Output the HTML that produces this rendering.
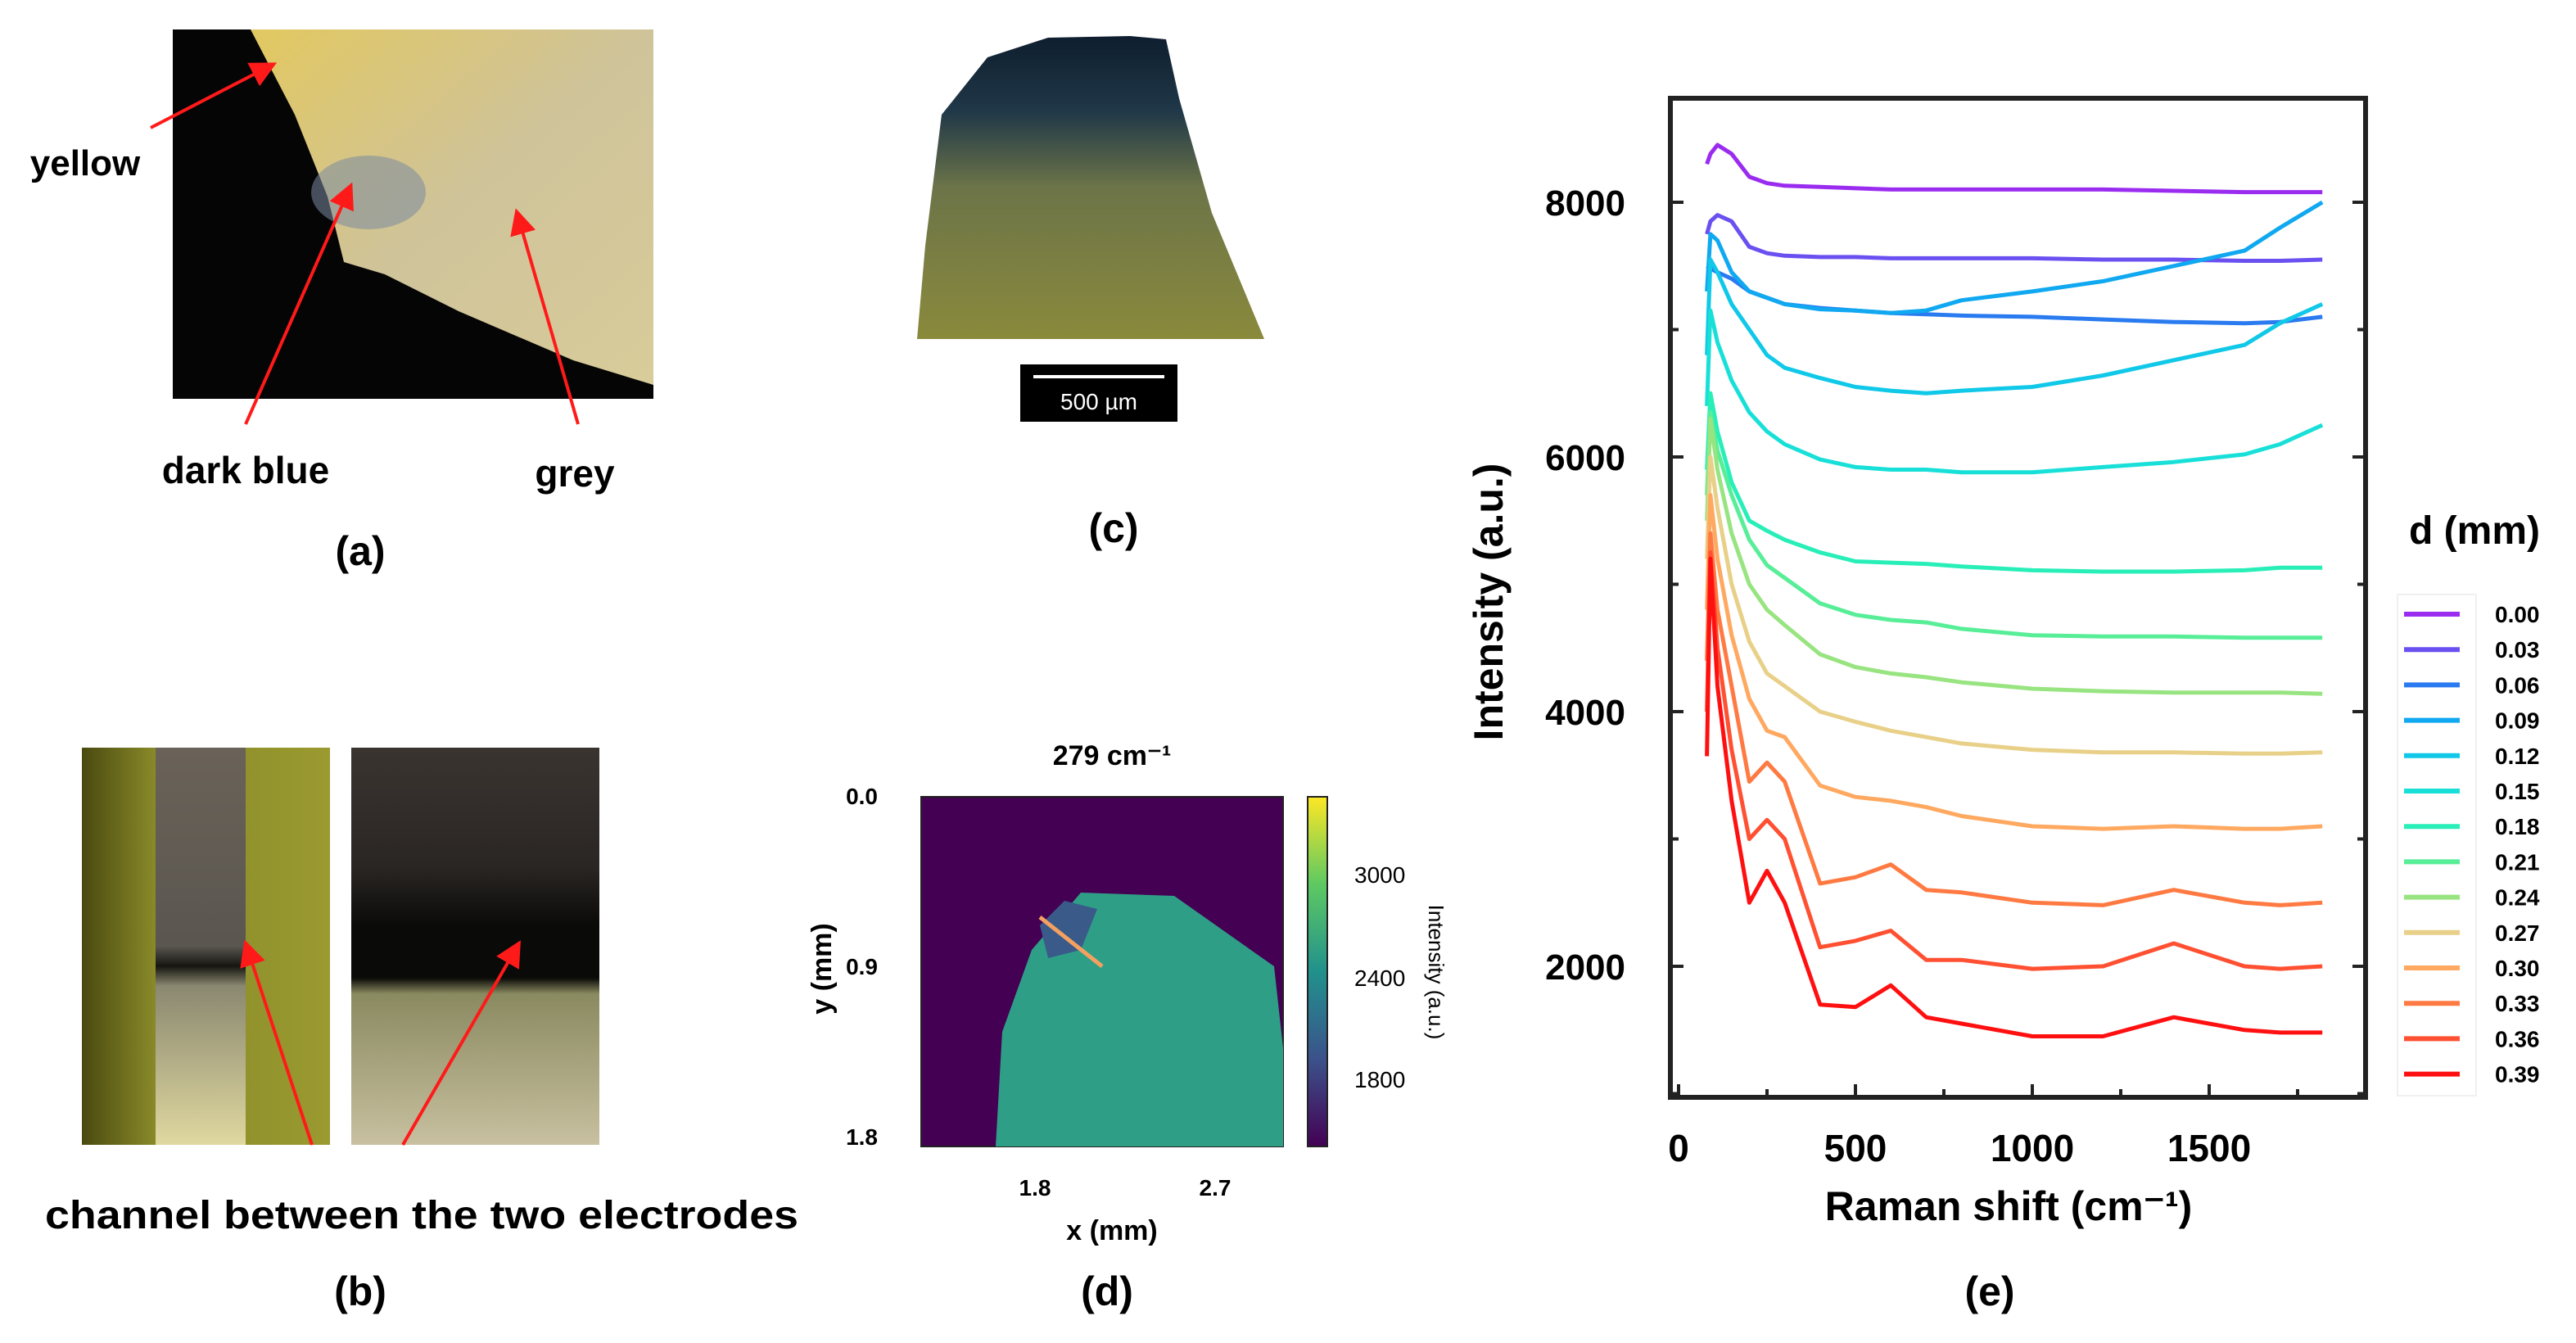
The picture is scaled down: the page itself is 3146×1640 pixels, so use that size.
<!DOCTYPE html>
<html><head><meta charset="utf-8"><style>
html,body{margin:0;padding:0;background:#fff;}
svg{display:block;font-family:"Liberation Sans",sans-serif;font-weight:bold;}
</style></head><body>
<svg id="fig" width="3146" height="1640" viewBox="0 0 3146 1640" xmlns="http://www.w3.org/2000/svg">
<defs>
 <linearGradient id="ga" x1="0" y1="0" x2="1" y2="1"><stop offset="0" stop-color="#e2c860"/><stop offset="0.5" stop-color="#cfc39a"/><stop offset="1" stop-color="#d8cc9a"/></linearGradient>
 <linearGradient id="gc" x1="0" y1="0" x2="0" y2="1"><stop offset="0" stop-color="#0e1e2e"/><stop offset="0.25" stop-color="#203848"/><stop offset="0.5" stop-color="#6c7448"/><stop offset="1" stop-color="#8a8a3c"/></linearGradient>
 <linearGradient id="gbl" x1="0" y1="0" x2="1" y2="0"><stop offset="0" stop-color="#4a4a10"/><stop offset="0.3" stop-color="#8a8a2a"/><stop offset="1" stop-color="#9a9a30"/></linearGradient>
 <linearGradient id="gbs" x1="0" y1="0" x2="0" y2="1"><stop offset="0" stop-color="#6a6258"/><stop offset="0.5" stop-color="#5a5650"/><stop offset="0.55" stop-color="#151510"/><stop offset="0.6" stop-color="#8a8870"/><stop offset="1" stop-color="#e0d8a0"/></linearGradient>
 <linearGradient id="gbr" x1="0" y1="0" x2="0" y2="1"><stop offset="0" stop-color="#3a3430"/><stop offset="0.3" stop-color="#2a2624"/><stop offset="0.45" stop-color="#0a0a08"/><stop offset="0.58" stop-color="#0a0a08"/><stop offset="0.62" stop-color="#8a8a60"/><stop offset="1" stop-color="#c8c0a0"/></linearGradient>
 <linearGradient id="gv" x1="0" y1="1" x2="0" y2="0"><stop offset="0" stop-color="#440154"/><stop offset="0.25" stop-color="#3b528b"/><stop offset="0.5" stop-color="#21918c"/><stop offset="0.75" stop-color="#5ec962"/><stop offset="1" stop-color="#fde725"/></linearGradient>
 <marker id="arr" markerWidth="8" markerHeight="8" refX="6" refY="4" orient="auto" markerUnits="strokeWidth"><path d="M0,0 L8,4 L0,8 z" fill="#ff1a1a"/></marker>
</defs>

<!-- Panel a -->
<g>
 <rect x="211" y="36" width="587" height="451" fill="#050505"/>
 <polygon points="306,36 798,36 798,470 700,440 560,380 470,335 420,320 400,240 360,140" fill="url(#ga)"/>
 <ellipse cx="450" cy="235" rx="70" ry="45" fill="#7a8aa0" opacity="0.55"/>
 <line x1="184" y1="156" x2="331" y2="80" stroke="#ff1a1a" stroke-width="4" marker-end="url(#arr)"/>
 <line x1="300" y1="518" x2="427" y2="230" stroke="#ff1a1a" stroke-width="4" marker-end="url(#arr)"/>
 <line x1="706" y1="518" x2="632" y2="262" stroke="#ff1a1a" stroke-width="4" marker-end="url(#arr)"/>
 <text x="104" y="214" font-size="44" text-anchor="middle">yellow</text>
 <text x="300" y="590" font-size="46" text-anchor="middle">dark blue</text>
 <text x="702" y="594" font-size="46" text-anchor="middle">grey</text>
 <text x="440" y="690" font-size="50" text-anchor="middle">(a)</text>
</g>

<!-- Panel b -->
<g>
 <rect x="100" y="913" width="303" height="485" fill="url(#gbl)"/>
 <rect x="190" y="913" width="110" height="485" fill="url(#gbs)"/>
 <rect x="429" y="913" width="303" height="485" fill="url(#gbr)"/>
 <line x1="381" y1="1398" x2="301" y2="1155" stroke="#ff1a1a" stroke-width="4" marker-end="url(#arr)"/>
 <line x1="492" y1="1398" x2="632" y2="1155" stroke="#ff1a1a" stroke-width="4" marker-end="url(#arr)"/>
 <text x="515" y="1500" font-size="48" text-anchor="middle" textLength="920" lengthAdjust="spacingAndGlyphs">channel between the two electrodes</text>
 <text x="440" y="1594" font-size="50" text-anchor="middle">(b)</text>
</g>

<!-- Panel c -->
<g>
 <polygon points="1206,70 1280,46 1380,44 1424,48 1440,120 1480,260 1544,414 1120,414 1130,300 1150,140" fill="url(#gc)"/>
 <rect x="1246" y="445" width="192" height="70" fill="#000"/>
 <line x1="1262" y1="460" x2="1422" y2="460" stroke="#fff" stroke-width="4"/>
 <text x="1342" y="500" font-size="28" fill="#fff" font-weight="normal" text-anchor="middle">500 µm</text>
 <text x="1360" y="662" font-size="50" text-anchor="middle">(c)</text>
</g>

<!-- Panel d -->
<g>
 <text x="1358" y="934" font-size="34" text-anchor="middle">279 cm⁻¹</text>
 <rect x="1125" y="973" width="442" height="427" fill="#440154" stroke="#222" stroke-width="2"/>
 <polygon points="1320,1090 1434,1094 1556,1180 1567,1280 1567,1400 1216,1400 1224,1260 1260,1160" fill="#2e9f86"/>
 <polygon points="1270,1130 1300,1100 1340,1110 1320,1160 1280,1170" fill="#3a5a8a"/>
 <line x1="1270" y1="1120" x2="1346" y2="1180" stroke="#f4a060" stroke-width="5"/>
 <text x="1072" y="982" font-size="28" text-anchor="end">0.0</text>
 <text x="1072" y="1190" font-size="28" text-anchor="end">0.9</text>
 <text x="1072" y="1398" font-size="28" text-anchor="end">1.8</text>
 <text x="1264" y="1460" font-size="28" text-anchor="middle">1.8</text>
 <text x="1484" y="1460" font-size="28" text-anchor="middle">2.7</text>
 <text x="1358" y="1514" font-size="34" text-anchor="middle">x (mm)</text>
 <text transform="translate(1015,1183) rotate(-90)" font-size="34" text-anchor="middle">y (mm)</text>
 <rect x="1597" y="973" width="24" height="427" fill="url(#gv)" stroke="#222" stroke-width="2"/>
 <text x="1654" y="1078" font-size="28" font-weight="normal">3000</text>
 <text x="1654" y="1204" font-size="28" font-weight="normal">2400</text>
 <text x="1654" y="1328" font-size="28" font-weight="normal">1800</text>
 <text transform="translate(1745,1187) rotate(90)" font-size="26" font-weight="normal" text-anchor="middle">Intensity (a.u.)</text>
 <text x="1352" y="1594" font-size="50" text-anchor="middle">(d)</text>
</g>

<g id="chart"></g>
</svg>
<script>
const xTicks = [0, 500, 1000, 1500];
const yTicks = [2000, 4000, 6000, 8000];
const dLabels = ["0.00","0.03","0.06","0.09","0.12","0.15","0.18","0.21","0.24","0.27","0.30","0.33","0.36","0.39"];
const ramanX = [80,90,110,150,200,250,300,400,500,600,700,800,1000,1200,1400,1600,1700,1820];
const s000 = [8300,8380,8450,8380,8200,8150,8130,8120,8110,8100,8100,8100,8100,8100,8090,8080,8080,8080];
const s003 = [7750,7850,7900,7850,7650,7600,7580,7570,7570,7560,7560,7560,7560,7550,7550,7540,7540,7550];
const s006 = [7500,7480,7450,7400,7300,7250,7200,7170,7150,7130,7120,7110,7100,7080,7060,7050,7060,7100];
const s009 = [7300,7750,7700,7450,7300,7250,7200,7160,7150,7130,7150,7230,7300,7380,7500,7620,7800,8000];
const s012 = [6800,7550,7450,7200,7000,6800,6700,6620,6550,6520,6500,6520,6550,6640,6760,6880,7050,7200];
const s015 = [6400,7150,6900,6600,6350,6200,6100,5980,5920,5900,5900,5880,5880,5920,5960,6020,6100,6250];
const s018 = [5900,6500,6200,5800,5500,5420,5350,5250,5180,5170,5160,5140,5110,5100,5100,5110,5130,5130];
const s021 = [5700,6350,6050,5700,5350,5150,5050,4850,4760,4720,4700,4650,4600,4590,4590,4580,4580,4580];
const s024 = [5500,6300,5900,5400,5000,4800,4680,4450,4350,4300,4270,4230,4180,4160,4150,4150,4150,4140];
const s027 = [5200,6000,5600,5000,4550,4300,4200,4000,3920,3850,3800,3750,3700,3680,3680,3670,3670,3680];
const s030 = [4800,5700,5200,4600,4100,3850,3800,3420,3330,3300,3250,3180,3100,3080,3100,3080,3080,3100];
const s033 = [4400,5400,4800,4200,3450,3600,3450,2650,2700,2800,2600,2580,2500,2480,2600,2500,2480,2500];
const s036 = [4000,5250,4500,3700,3000,3150,3000,2150,2200,2280,2050,2050,1980,2000,2180,2000,1980,2000];
const s039 = [3650,5200,4200,3300,2500,2750,2500,1700,1680,1850,1600,1550,1450,1450,1600,1500,1480,1480];
const allSeries = [s000,s003,s006,s009,s012,s015,s018,s021,s024,s027,s030,s033,s036,s039];
const colors = ["#9a2cf0","#6a50f0","#2a7af0","#10a8f0","#10c8e8","#18e0d8","#28eeb8","#58ee98","#98e480","#e8d088","#ffa860","#ff7a42","#ff5032","#ff1010"];

const NS = "http://www.w3.org/2000/svg";
const L = 2040, R = 2889, T = 120, B = 1340;
function xs(v){ return 2050 + v * (648/1500); }
function ys(v){ return 247 + (8000 - v) * (933/6000); }
const g = document.getElementById('chart');
function mk(tag, attrs, parent){ const e = document.createElementNS(NS, tag); for (const k in attrs) e.setAttribute(k, attrs[k]); (parent||g).appendChild(e); return e; }

// series
allSeries.forEach((s, i) => {
  const d = s.map((v, j) => (j ? 'L' : 'M') + xs(ramanX[j]).toFixed(1) + ',' + ys(v).toFixed(1)).join(' ');
  const p = mk('path', {d: d, fill: 'none', stroke: colors[i], 'stroke-width': 5, 'stroke-linejoin': 'round'});
  
  
});

// frame
const fr = mk('rect', {x: L, y: T, width: R - L, height: B - T, fill: 'none', stroke: '#222', 'stroke-width': 6});



// x ticks
for (let v = 0; v <= 1750; v += 250) {
  const len = v % 500 === 0 ? 16 : 10;
  mk('line', {x1: xs(v), x2: xs(v), y1: B, y2: B - len, stroke: '#222', 'stroke-width': 4});
}
xTicks.forEach(v => {
  const t = mk('text', {x: xs(v), y: 1418, 'font-size': 46, 'text-anchor': 'middle'});
  t.textContent = v;
  
  
});
// y ticks
for (let v = 1000; v <= 8000; v += 1000) {
  const len = v % 2000 === 0 ? 16 : 10;
  mk('line', {x1: L, x2: L + len, y1: ys(v), y2: ys(v), stroke: '#222', 'stroke-width': 4});
  mk('line', {x1: R, x2: R - len, y1: ys(v), y2: ys(v), stroke: '#222', 'stroke-width': 4});
}
yTicks.forEach(v => {
  const t = mk('text', {x: 1985, y: ys(v) + 16, 'font-size': 44, 'text-anchor': 'end'});
  t.textContent = v;
  
  
});
const xt = mk('text', {x: 2453, y: 1490, 'font-size': 50, 'text-anchor': 'middle'});
xt.textContent = 'Raman shift (cm⁻¹)';


const yt = mk('text', {transform: 'translate(1835,735) rotate(-90)', 'font-size': 50, 'text-anchor': 'middle'});
yt.textContent = 'Intensity (a.u.)';


const pe = mk('text', {x: 2430, y: 1594, 'font-size': 50, 'text-anchor': 'middle'});
pe.textContent = '(e)';



// legend
const lt = mk('text', {x: 3022, y: 664, 'font-size': 48, 'text-anchor': 'middle'});
lt.textContent = 'd (mm)';


const lb = mk('rect', {x: 2928, y: 726, width: 96, height: 612, fill: 'none', stroke: '#f0f0f0', 'stroke-width': 2});


dLabels.forEach((lab, i) => {
  const y = 750 + i * 43.2;
  const ln = mk('line', {x1: 2936, x2: 3004, y1: y, y2: y, stroke: colors[i], 'stroke-width': 6});
  
  
  const t = mk('text', {x: 3047, y: y + 10, 'font-size': 28});
  t.textContent = lab;
  
  
});
</script>
</body></html>
